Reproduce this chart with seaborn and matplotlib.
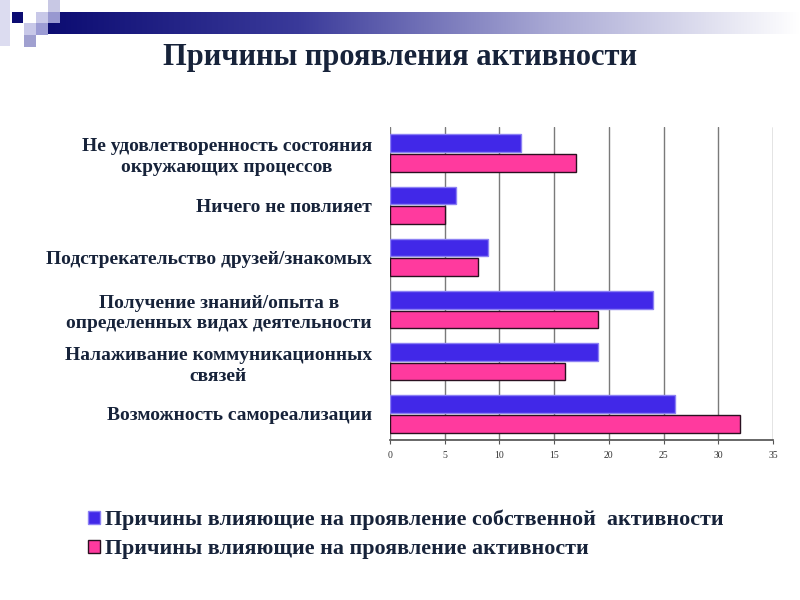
import numpy as np
import pandas as pd
import matplotlib
matplotlib.use("Agg")
import matplotlib.pyplot as plt
from matplotlib.colors import LinearSegmentedColormap
from matplotlib.patches import Rectangle, Patch
import seaborn as sns

# reasons, top to bottom
reasons = [
    "Не удовлетворенность состояния\nокружающих процессов",
    "Ничего не повлияет",
    "Подстрекательство друзей/знакомых",
    "Получение знаний/опыта в\nопределенных видах деятельности",
    "Налаживание коммуникационных\nсвязей",
    "Возможность самореализации",
]
own_activity = [12, 6, 9, 24, 19, 26]
activity = [17, 5, 8, 19, 16, 32]
series_names = [
    "Причины влияющие на проявление собственной  активности",
    "Причины влияющие на проявление активности",
]
x_ticks = [0, 5, 10, 15, 20, 25, 30, 35]

TEXT = "#17233a"
BLUE = "#4128e8"
PINK = "#ff3a9e"

df = pd.DataFrame({
    "reason": reasons * 2,
    "value": own_activity + activity,
    "series": [series_names[0]] * len(reasons) + [series_names[1]] * len(reasons),
})

sns.set_theme(style="white")
plt.rcParams["font.family"] = ["Liberation Serif", "DejaVu Serif"]

fig = plt.figure(figsize=(8, 6), dpi=100)

# slide decoration: gradient bar and small squares, in pixel coords
deco = fig.add_axes([0, 0, 1, 1], zorder=0)
deco.set_xlim(0, 800)
deco.set_ylim(600, 0)
deco.axis("off")
grad = LinearSegmentedColormap.from_list("hdr", ["#0c0c72", "#3a3a9a", "#a8a8d4", "#ffffff"])
deco.imshow(np.linspace(0, 1, 256)[None, :], cmap=grad, aspect="auto",
            extent=(48, 800, 34, 12), zorder=1)
squares = [
    (0, 0, 10, 46, "#dcdcf0"),
    (12, 12, 11, 11, "#0c0c72"),
    (36, 12, 12, 11, "#c8c8e8"),
    (48, 0, 12, 12, "#c8c8e4"),
    (48, 12, 12, 11, "#9898d0"),
    (24, 23, 12, 12, "#c8c8e8"),
    (36, 23, 12, 12, "#9c9cd4"),
    (24, 35, 12, 12, "#a0a0d0"),
]
for x0, y0, w, h, c in squares:
    deco.add_patch(Rectangle((x0, y0), w, h, color=c, zorder=2, lw=0))

fig.text(0.5, 1 - 58 / 600, "Причины проявления активности", ha="center", va="center",
         fontsize=22, fontweight="bold", color=TEXT)

ax = fig.add_axes([390 / 800, 1 - 440 / 600, 383 / 800, 313 / 600], zorder=1)
ax.patch.set_alpha(0)
sns.barplot(data=df, x="value", y="reason", hue="series", orient="h",
            palette=[BLUE, PINK], saturation=1, width=0.75, gap=0.1,
            ax=ax, legend=False, zorder=3)

edge_cols = ["#8c80f4", "#2a1020"]
for cont, ec in zip(ax.containers, edge_cols):
    for bar in cont:
        bar.set_edgecolor(ec)
        bar.set_linewidth(1.0)

ax.set_xlim(0, 35)
ax.set_xticks(x_ticks)
ax.set_xticklabels([str(t) for t in x_ticks], fontsize=7, color="#333333")
ax.tick_params(axis="x", length=3, width=0.8, color="#555555", pad=5, bottom=True)
ax.tick_params(axis="y", length=0, pad=13)
for t in ax.get_yticklabels():
    t.set_multialignment("center")
    t.set_linespacing(1.3)
    t.set_fontsize(14)
    t.set_fontweight("bold")
    t.set_color(TEXT)
ax.grid(axis="x", color="#7a7a7a", linewidth=1.0, zorder=0)
ax.set_axisbelow(True)
for side in ["top", "right", "left"]:
    ax.spines[side].set_visible(False)
ax.spines["bottom"].set_color("#555555")
ax.set_xlabel("")
ax.set_ylabel("")

handles = [Patch(facecolor=BLUE, edgecolor="#8c80f4"), Patch(facecolor=PINK, edgecolor="#2a1020")]
leg = fig.legend(handles, series_names, loc="upper left",
                 bbox_to_anchor=(68 / 800, 1 - 490 / 600), frameon=False,
                 prop={"family": ["Liberation Serif"], "weight": "bold", "size": 15.8},
                 handlelength=0.55, handleheight=0.55, handletextpad=0.25, labelspacing=0.4)
for txt in leg.get_texts():
    txt.set_color(TEXT)

fig.savefig("out.png", dpi=100)
